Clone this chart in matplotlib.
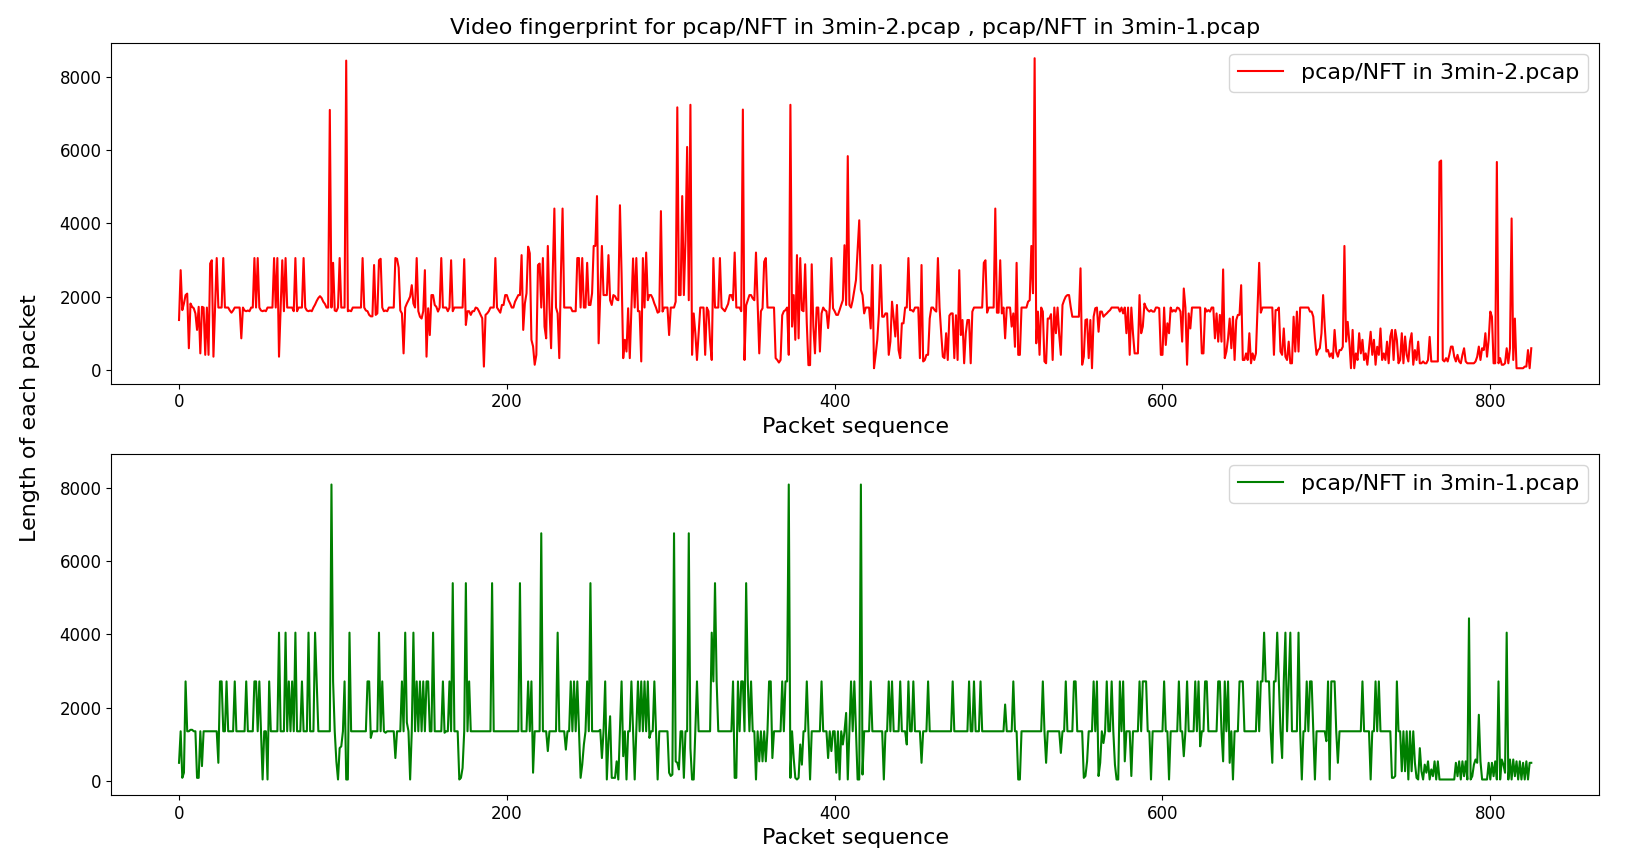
import numpy as np
import matplotlib
matplotlib.use('Agg')
import matplotlib.pyplot as plt

# packet lengths, 10 values per row (row start index in comment)
len_3min_2 = [
    1360, 2720, 1630, 1810, 2040, 2080, 590, 1810, 1720, 1680,  # 0
    1540, 1090, 1720, 450, 1720, 1700, 410, 1700, 410, 2900,  # 10
    2990, 360, 1700, 3050, 1700, 1700, 1700, 3050, 1700, 1700,  # 20
    1700, 1620, 1560, 1620, 1700, 1700, 1700, 1700, 860, 1700,  # 30
    1620, 1600, 1620, 1600, 1700, 1700, 3050, 1700, 3050, 1700,  # 40
    1620, 1600, 1620, 1600, 1700, 1700, 1700, 1700, 3050, 1700,  # 50
    3050, 360, 1700, 2990, 1600, 3050, 1700, 1700, 1700, 1700,  # 60
    1600, 3050, 1600, 1700, 1700, 1700, 3050, 1700, 1620, 1600,  # 70
    1620, 1600, 1700, 1780, 1880, 1960, 2010, 1960, 1860, 1800,  # 80
    1700, 1700, 7090, 1700, 2920, 1620, 1600, 1700, 3050, 1700,  # 90
    1700, 1700, 8435, 1600, 1620, 1600, 1700, 1700, 1700, 1700,  # 100
    1700, 1700, 3050, 1700, 1620, 1600, 1500, 1460, 1460, 2860,  # 110
    1500, 1540, 2990, 3030, 1700, 1600, 1620, 1600, 1700, 1700,  # 120
    1700, 1700, 3050, 3030, 2790, 1620, 1540, 450, 1700, 1810,  # 130
    1900, 2000, 2310, 1810, 1700, 3050, 1600, 1450, 1400, 1600,  # 140
    2720, 360, 1680, 950, 2040, 2040, 1770, 1720, 1590, 1700,  # 150
    3050, 1700, 1700, 1700, 1600, 1700, 2990, 1600, 1700, 1700,  # 160
    1700, 1700, 1700, 1700, 3020, 1225, 1600, 1600, 1500, 1600,  # 170
    1600, 1700, 1680, 1600, 1500, 1410, 90, 1500, 1540, 1600,  # 180
    1700, 1700, 1700, 3050, 1700, 1630, 1560, 1770, 1770, 2040,  # 190
    2040, 1900, 1810, 1700, 1700, 1860, 1950, 2040, 2040, 3130,  # 200
    1090, 1810, 2090, 3360, 3180, 820, 640, 140, 410, 2860,  # 210
    2900, 1700, 3050, 1180, 860, 3380, 1700, 590, 2630, 4400,  # 220
    1700, 1540, 320, 2630, 4400, 1700, 1700, 1700, 1700, 1700,  # 230
    1600, 1600, 1600, 3050, 3050, 1700, 3050, 1700, 1700, 2920,  # 240
    1770, 1770, 2090, 3380, 3380, 4740, 725, 2090, 3380, 2040,  # 250
    2040, 2040, 3130, 1900, 1770, 2040, 2010, 1920, 1900, 4490,  # 260
    2630, 320, 820, 500, 1680, 320, 1700, 3040, 1700, 3050,  # 270
    1600, 1600, 230, 3050, 1700, 3200, 1900, 2040, 2040, 1950,  # 280
    1810, 1700, 1560, 1590, 4330, 1590, 1700, 1700, 1700, 950,  # 290
    1700, 1700, 1700, 1860, 7160, 2040, 2040, 4740, 2040, 3540,  # 300
    6080, 1900, 7230, 410, 1540, 1000, 270, 1000, 1700, 1700,  # 310
    1700, 410, 1700, 1600, 770, 270, 3050, 1700, 1700, 1700,  # 320
    3050, 1700, 1650, 1600, 1700, 1800, 2040, 2040, 1900, 3200,  # 330
    1700, 1700, 1700, 1600, 7100, 270, 1760, 1900, 2040, 2040,  # 340
    1950, 1900, 3200, 1800, 450, 1600, 1680, 2950, 3050, 1700,  # 350
    1700, 1700, 1700, 1700, 320, 270, 200, 270, 1490, 1600,  # 360
    1630, 1700, 410, 7230, 1180, 2040, 820, 3130, 860, 3050,  # 370
    1630, 1600, 2880, 1270, 130, 130, 2880, 1180, 450, 1700,  # 380
    1700, 500, 1540, 1700, 1630, 1600, 1140, 1700, 3050, 1680,  # 390
    1600, 1500, 1500, 1630, 1770, 1900, 3400, 1770, 5830, 1770,  # 400
    1700, 1900, 2180, 2450, 3260, 4080, 2180, 2040, 1540, 1700,  # 410
    1700, 1700, 1130, 2860, 45, 410, 820, 1540, 2860, 1450,  # 420
    1450, 1540, 1540, 410, 770, 1860, 1410, 910, 1770, 540,  # 430
    320, 1270, 1270, 1700, 1700, 3050, 1630, 1630, 1590, 1700,  # 440
    1700, 1700, 320, 2860, 230, 270, 410, 410, 1400, 1700,  # 450
    1700, 1630, 1590, 3050, 1700, 1000, 360, 320, 1000, 270,  # 460
    1480, 1540, 1540, 320, 1490, 270, 2720, 950, 1360, 180,  # 470
    1000, 1360, 1360, 180, 1590, 1700, 1700, 1700, 1700, 1700,  # 480
    1700, 2920, 2990, 1560, 1700, 1700, 1700, 1700, 4400, 1560,  # 490
    1560, 2990, 1540, 1700, 860, 1700, 1700, 1700, 1180, 1540,  # 500
    630, 2920, 410, 410, 1700, 1700, 1700, 1700, 1860, 1900,  # 510
    3380, 2090, 8500, 725, 1590, 410, 1700, 1590, 230, 180,  # 520
    1400, 1400, 1520, 270, 1700, 1000, 1700, 950, 410, 1770,  # 530
    1900, 2000, 2040, 2040, 1720, 1450, 1450, 1450, 1450, 1450,  # 540
    2770, 140, 360, 1360, 1380, 320, 1360, 45, 1450, 1680,  # 550
    1700, 1040, 1590, 1590, 1450, 1500, 1540, 1590, 1630, 1700,  # 560
    1700, 1700, 1700, 1700, 1590, 1700, 1540, 1700, 1000, 1700,  # 570
    410, 1700, 1000, 450, 450, 450, 2040, 1000, 1180, 1810,  # 580
    1700, 1630, 1590, 1630, 1590, 1590, 1700, 1700, 1680, 410,  # 590
    410, 1700, 680, 1270, 1000, 1700, 1590, 1630, 1590, 1700,  # 600
    1680, 1590, 770, 2220, 1700, 140, 1540, 1130, 1700, 1700,  # 610
    1700, 1700, 1700, 1700, 450, 450, 1680, 1590, 1630, 1590,  # 620
    1700, 1700, 860, 1540, 770, 1500, 770, 2740, 320, 500,  # 630
    860, 1400, 590, 1450, 270, 1360, 1500, 1500, 2310, 270,  # 640
    270, 450, 270, 1000, 180, 450, 270, 450, 1720, 2920,  # 650
    1560, 1700, 1700, 1700, 1700, 1700, 1700, 1700, 410, 1630,  # 660
    1630, 1700, 500, 410, 1130, 360, 270, 770, 180, 180,  # 670
    1450, 500, 1590, 500, 1700, 1700, 1700, 1700, 1700, 1700,  # 680
    1590, 1590, 1450, 860, 410, 540, 590, 1000, 2040, 1180,  # 690
    500, 540, 360, 450, 320, 1090, 500, 360, 540, 540,  # 700
    630, 3380, 770, 1310, 770, 45, 1090, 45, 450, 270,  # 710
    1000, 450, 820, 270, 450, 140, 590, 1040, 410, 820,  # 720
    140, 630, 410, 1130, 270, 450, 270, 770, 180, 910,  # 730
    1090, 270, 1090, 820, 180, 270, 1000, 180, 910, 410,  # 740
    230, 770, 1000, 140, 540, 270, 770, 180, 180, 230,  # 750
    180, 180, 270, 900, 230, 230, 230, 230, 230, 5670,  # 760
    5710, 270, 230, 320, 230, 410, 635, 635, 360, 230,  # 770
    410, 230, 180, 410, 590, 230, 180, 180, 180, 180,  # 780
    180, 230, 360, 635, 270, 590, 540, 1000, 360, 820,  # 790
    1590, 1450, 180, 180, 5670, 180, 320, 140, 140, 180,  # 800
    590, 180, 590, 4130, 270, 1400, 45, 45, 45, 45,  # 810
    45, 90, 90, 540, 45, 590,  # 820
]

len_3min_1 = [
    500, 1360, 90, 230, 2720, 1360, 1360, 1400, 1400, 1360,  # 0
    1360, 90, 90, 1360, 410, 1360, 1360, 1360, 1360, 1360,  # 10
    1360, 1360, 1360, 1360, 500, 2720, 2720, 1360, 1360, 2720,  # 20
    1360, 1360, 1360, 1360, 2720, 1360, 1360, 1360, 1360, 1360,  # 30
    1360, 2720, 1360, 1360, 1360, 1360, 2720, 2720, 1360, 2720,  # 40
    1360, 45, 1360, 1360, 45, 2720, 1360, 1360, 1360, 1360,  # 50
    1360, 4050, 1360, 1360, 1360, 4050, 1360, 2720, 1360, 2720,  # 60
    1360, 4050, 1360, 1360, 1360, 2720, 1360, 1360, 1360, 4050,  # 70
    1360, 1360, 1360, 4050, 2720, 1360, 1360, 1360, 1360, 1360,  # 80
    1360, 1360, 1360, 8090, 2720, 1360, 540, 45, 900, 950,  # 90
    1360, 2720, 45, 45, 4050, 1360, 1360, 1360, 1360, 1360,  # 100
    1360, 1360, 1360, 1360, 1360, 2720, 2720, 1180, 1360, 1360,  # 110
    1360, 1360, 4050, 1360, 2720, 1360, 1320, 1360, 1360, 1360,  # 120
    1360, 1360, 630, 1360, 1360, 1360, 2720, 1360, 4050, 1600,  # 130
    1360, 45, 1360, 4050, 1360, 2720, 1360, 2720, 1360, 2720,  # 140
    1360, 2720, 2720, 1360, 1360, 4050, 1360, 1360, 1360, 1360,  # 150
    1360, 2720, 1320, 1360, 1360, 2720, 1360, 5400, 1360, 1360,  # 160
    1360, 45, 90, 360, 1360, 5400, 1360, 2720, 1360, 1360,  # 170
    1360, 1360, 1360, 1360, 1360, 1360, 1360, 1360, 1360, 1360,  # 180
    1360, 5400, 1360, 1360, 1360, 1360, 1360, 1360, 1360, 1360,  # 190
    1360, 1360, 1360, 1360, 1360, 1360, 1360, 1360, 5400, 1360,  # 200
    1360, 1360, 1360, 2720, 1360, 2720, 230, 1360, 1360, 1360,  # 210
    1360, 6760, 1360, 1360, 1360, 820, 1360, 1360, 1360, 1360,  # 220
    1360, 4050, 1360, 1360, 1360, 1360, 860, 1360, 1360, 2720,  # 230
    1360, 2720, 1360, 2720, 1360, 90, 450, 1000, 1360, 2720,  # 240
    1360, 5400, 1360, 1360, 1360, 1360, 1360, 1400, 630, 1360,  # 250
    2720, 45, 1090, 1770, 90, 90, 90, 540, 45, 1360,  # 260
    2720, 680, 1360, 45, 1360, 1360, 2720, 1360, 45, 1360,  # 270
    2720, 1360, 2720, 1360, 2720, 1360, 2720, 1180, 1360, 1360,  # 280
    2720, 1360, 45, 1360, 1360, 1360, 1360, 1360, 1360, 230,  # 290
    140, 180, 6760, 540, 500, 320, 1360, 1360, 90, 1360,  # 300
    1360, 6760, 900, 45, 45, 1360, 2720, 1360, 1360, 1360,  # 310
    1360, 1360, 1360, 1360, 1360, 4050, 2720, 5400, 2720, 1360,  # 320
    1360, 1360, 1360, 1360, 1360, 1360, 1360, 1360, 2720, 90,  # 330
    90, 2720, 1360, 2720, 2720, 1360, 5400, 2720, 1360, 2720,  # 340
    1360, 1360, 45, 1360, 540, 1360, 540, 1360, 540, 1360,  # 350
    2720, 2720, 630, 1360, 1360, 1360, 1360, 1360, 2720, 1360,  # 360
    2720, 2720, 8090, 90, 1360, 630, 90, 45, 90, 1000,  # 370
    450, 1360, 1360, 2720, 1360, 45, 1360, 1360, 1360, 1360,  # 380
    1360, 1360, 2720, 1360, 1360, 1360, 630, 1360, 820, 1360,  # 390
    1360, 230, 1360, 45, 1360, 1000, 1360, 1860, 45, 1360,  # 400
    2720, 1360, 2720, 1360, 45, 45, 8090, 180, 1360, 1360,  # 410
    1360, 1360, 2720, 1360, 1360, 1360, 1360, 1360, 1360, 1360,  # 420
    45, 1360, 1360, 2720, 1360, 2720, 1360, 1360, 1360, 1360,  # 430
    2720, 1360, 1360, 1360, 1000, 2720, 1360, 1360, 2720, 1360,  # 440
    1360, 1360, 1360, 500, 1360, 1360, 1360, 2720, 1360, 1360,  # 450
    1360, 1360, 1360, 1360, 1360, 1360, 1360, 1360, 1360, 1360,  # 460
    1360, 1360, 2720, 1360, 1360, 1360, 1360, 1360, 1360, 1360,  # 470
    1360, 1360, 2720, 1360, 1360, 2720, 1360, 1360, 1360, 2720,  # 480
    1360, 1360, 1360, 1360, 1360, 1360, 1360, 1360, 1360, 1360,  # 490
    1360, 1360, 1360, 1360, 2090, 1360, 1360, 1360, 1360, 2720,  # 500
    1360, 1360, 45, 45, 1360, 1360, 1360, 1360, 1360, 1360,  # 510
    1360, 1360, 1360, 1360, 1360, 1360, 1360, 2720, 1360, 500,  # 520
    1360, 1360, 1360, 1360, 1360, 1360, 1360, 1360, 770, 1360,  # 530
    1360, 2720, 1360, 1360, 1360, 1360, 2720, 2720, 1360, 1360,  # 540
    1360, 1360, 90, 140, 540, 1360, 1360, 1360, 2720, 1360,  # 550
    2720, 140, 500, 1360, 1040, 1360, 2720, 1360, 1360, 2720,  # 560
    1360, 450, 45, 45, 2720, 1360, 2720, 540, 1360, 1360,  # 570
    1360, 140, 1360, 1360, 1360, 1360, 2720, 1360, 2720, 2720,  # 580
    2720, 1360, 1360, 45, 1360, 1360, 1360, 1360, 1360, 1360,  # 590
    1360, 2720, 1360, 1360, 45, 1360, 1360, 1360, 1360, 1360,  # 600
    2720, 1360, 1360, 680, 1360, 2720, 1360, 1360, 1360, 1360,  # 610
    2720, 1360, 2720, 950, 1360, 1360, 2720, 2720, 1360, 1360,  # 620
    1360, 1360, 1360, 1360, 2720, 2720, 1360, 540, 2720, 1360,  # 630
    2720, 500, 1360, 45, 1360, 1360, 1360, 2720, 2720, 2720,  # 640
    1360, 1360, 1360, 1360, 1360, 1360, 1360, 1360, 2720, 1360,  # 650
    2720, 2720, 4050, 2720, 2720, 2720, 1360, 500, 2720, 2720,  # 660
    4050, 2720, 1360, 630, 2720, 4050, 1360, 2720, 4050, 1360,  # 670
    1360, 1360, 1360, 4050, 1360, 45, 1360, 1360, 2720, 1360,  # 680
    2720, 2720, 1360, 45, 1360, 1360, 1360, 1360, 1360, 1360,  # 690
    1090, 2720, 45, 2720, 2720, 2720, 1360, 500, 1360, 1360,  # 700
    1360, 1360, 1360, 1360, 1360, 1360, 1360, 1360, 1360, 1360,  # 710
    1360, 1360, 2720, 1360, 1360, 1360, 1360, 45, 1360, 1360,  # 720
    2720, 1360, 2720, 1360, 1360, 1360, 1360, 1360, 1360, 1360,  # 730
    90, 90, 140, 2720, 1360, 1360, 270, 1360, 270, 1360,  # 740
    45, 1360, 270, 1360, 500, 90, 45, 900, 270, 45,  # 750
    450, 230, 540, 45, 320, 135, 540, 45, 540, 45,  # 760
    45, 45, 45, 45, 45, 45, 45, 45, 45, 500,  # 770
    135, 540, 45, 540, 135, 540, 45, 4440, 45, 135,  # 780
    450, 590, 500, 1810, 540, 45, 45, 45, 45, 500,  # 790
    45, 500, 135, 540, 45, 2720, 45, 590, 450, 230,  # 800
    4050, 45, 590, 45, 590, 135, 540, 45, 540, 45,  # 810
    500, 45, 540, 45, 500, 500,  # 820
]

name_2 = 'pcap/NFT in 3min-2.pcap'
name_1 = 'pcap/NFT in 3min-1.pcap'

fig, (ax1, ax2) = plt.subplots(2, 1, sharey=True, figsize=(16.48, 8.63), dpi=100)
fig.subplots_adjust(left=0.0676, right=0.9702, top=0.9505, bottom=0.0788, hspace=0.206)

ax1.plot(np.arange(len(len_3min_2)), len_3min_2, color='red', linewidth=1.5, label=name_2)
ax2.plot(np.arange(len(len_3min_1)), len_3min_1, color='green', linewidth=1.5, label=name_1)

ax1.set_title('Video fingerprint for ' + name_2 + ' , ' + name_1, fontsize=16)
for ax in (ax1, ax2):
    ax.set_xlabel('Packet sequence', fontsize=16)
    ax.tick_params(axis='both', labelsize=12)
    ax.legend(loc='upper right', fontsize=16)

fig.text(0.018, 0.515, 'Length of each packet', rotation=90, ha='center', va='center', fontsize=16)

fig.savefig('out.png', dpi=100)
